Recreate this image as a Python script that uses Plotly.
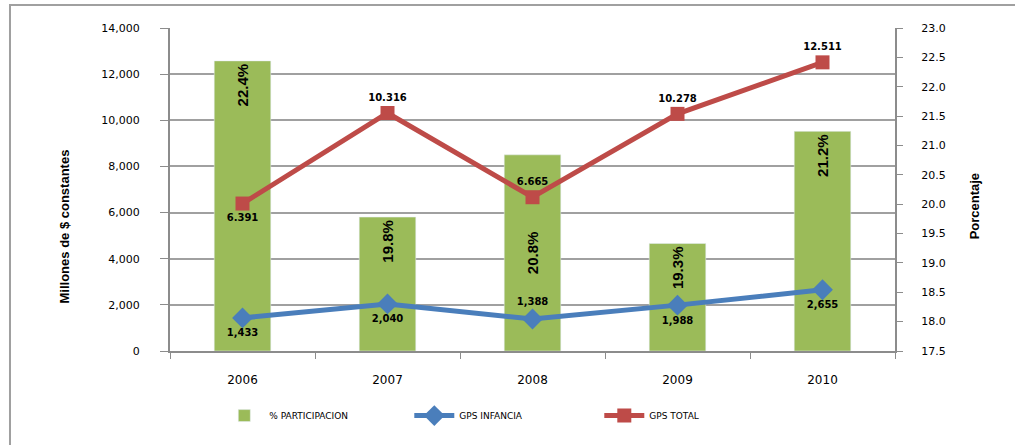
import plotly.graph_objects as go

years = ["2006", "2007", "2008", "2009", "2010"]
participacion = [22.44, 19.78, 20.84, 19.33, 21.24]
gps_infancia = [1433, 2040, 1388, 1988, 2655]
gps_total = [6391, 10316, 6665, 10278, 12511]

PCT_AXIS_MIN = 17.5  # bars rise from the bottom of the percentage axis

infancia_pos = ["bottom center", "bottom center", "top center", "bottom center", "bottom center"]
total_pos = ["bottom center", "top center", "top center", "top center", "top center"]
# bar whose label sits in the middle of the bar instead of near its top
mid_label = [False, False, True, False, False]

pct_text = [f"{v:.1f}%" for v in participacion]
inf_text = [f"{v:,}" for v in gps_infancia]
tot_text = [f"{v:,}".replace(",", ".") for v in gps_total]

GRAY = "#8c8c8c"
GREEN = "#9bbb59"
lab_font = dict(family="DejaVu Sans", size=10, color="black", weight="bold")
bar_font = dict(family="Liberation Sans", size=15, color="black", weight="bold")

fig = go.Figure()
for anchor, sel, show in (("end", False, True), ("middle", True, False)):
    idx = [i for i, m in enumerate(mid_label) if m == sel]
    fig.add_trace(go.Bar(
        x=[years[i] for i in idx],
        y=[participacion[i] - PCT_AXIS_MIN for i in idx], base=PCT_AXIS_MIN,
        name="% PARTICIPACION", showlegend=show,
        marker=dict(color=GREEN), width=0.39,
        text=[pct_text[i] for i in idx], textposition="inside",
        insidetextanchor=anchor, textangle=-90,
        textfont=bar_font, yaxis="y"))
fig.add_trace(go.Scatter(
    x=years, y=gps_infancia, name="GPS INFANCIA", mode="lines+markers+text",
    line=dict(color="#4a7ebb", width=5),
    marker=dict(symbol="diamond", size=16, color="#4a7ebb"),
    text=inf_text, textposition=infancia_pos, textfont=lab_font,
    yaxis="y2"))
fig.add_trace(go.Scatter(
    x=years, y=gps_total, name="GPS TOTAL", mode="lines+markers+text",
    line=dict(color="#be4b48", width=5),
    marker=dict(symbol="square", size=14, color="#be4b48"),
    text=tot_text, textposition=total_pos, textfont=lab_font,
    yaxis="y2"))

tick_font = dict(family="DejaVu Sans", size=11, color="black")
title_font = dict(family="Liberation Sans", size=13, color="black", weight="bold")

fig.update_layout(
    width=1015, height=445,
    margin=dict(l=170, r=120, t=28, b=94, autoexpand=False),
    paper_bgcolor="white", plot_bgcolor="white",
    barmode="overlay",
    showlegend=True,
    legend=dict(orientation="h", x=0.068, xanchor="left", y=-0.2, yanchor="middle",
                font=dict(family="DejaVu Sans", size=9, color="black"),
                itemwidth=40, entrywidth=135, entrywidthmode="pixels",
                traceorder="normal"),
    xaxis=dict(type="category", categoryorder="array", categoryarray=years,
               tickson="boundaries", ticks="outside", ticklen=6,
               tickcolor=GRAY, showline=True, linecolor=GRAY, linewidth=2,
               showgrid=False, tickfont=dict(family="DejaVu Sans", size=12, color="black"),
               ticklabelstandoff=17),
    yaxis=dict(side="right", range=[PCT_AXIS_MIN, 23], dtick=0.5, tickformat=".1f",
               showgrid=False, showline=True, linecolor=GRAY, linewidth=2,
               ticks="outside", ticklen=6, tickcolor=GRAY, tickfont=tick_font,
               ticklabelstandoff=16, zeroline=False),
    yaxis2=dict(overlaying="y", side="left", range=[0, 14000], dtick=2000,
                tickformat=",", showgrid=True, gridcolor="#a0a0a0", gridwidth=1.5,
                showline=True, linecolor=GRAY, linewidth=2,
                ticks="outside", ticklen=8, tickcolor=GRAY, tickfont=tick_font,
                ticklabelstandoff=18, zeroline=False),
    annotations=[
        dict(text="Millones de $ constantes", xref="paper", yref="paper",
             x=-0.1586, y=0.384, textangle=-90, showarrow=False, font=title_font),
        dict(text="Porcentaje", xref="paper", yref="paper",
             x=1.124, y=0.449, textangle=-90, showarrow=False, font=title_font),
    ],
    shapes=[dict(type="rect", xref="paper", yref="paper",
                 x0=-0.2207, x1=1.3, y0=-0.4, y1=1.071,
                 line=dict(color="#a0a0a0", width=2), layer="below")],
)

fig.write_html("out.html", config={"displayModeBar": False},
               post_script="document.body.style.margin='0';")
